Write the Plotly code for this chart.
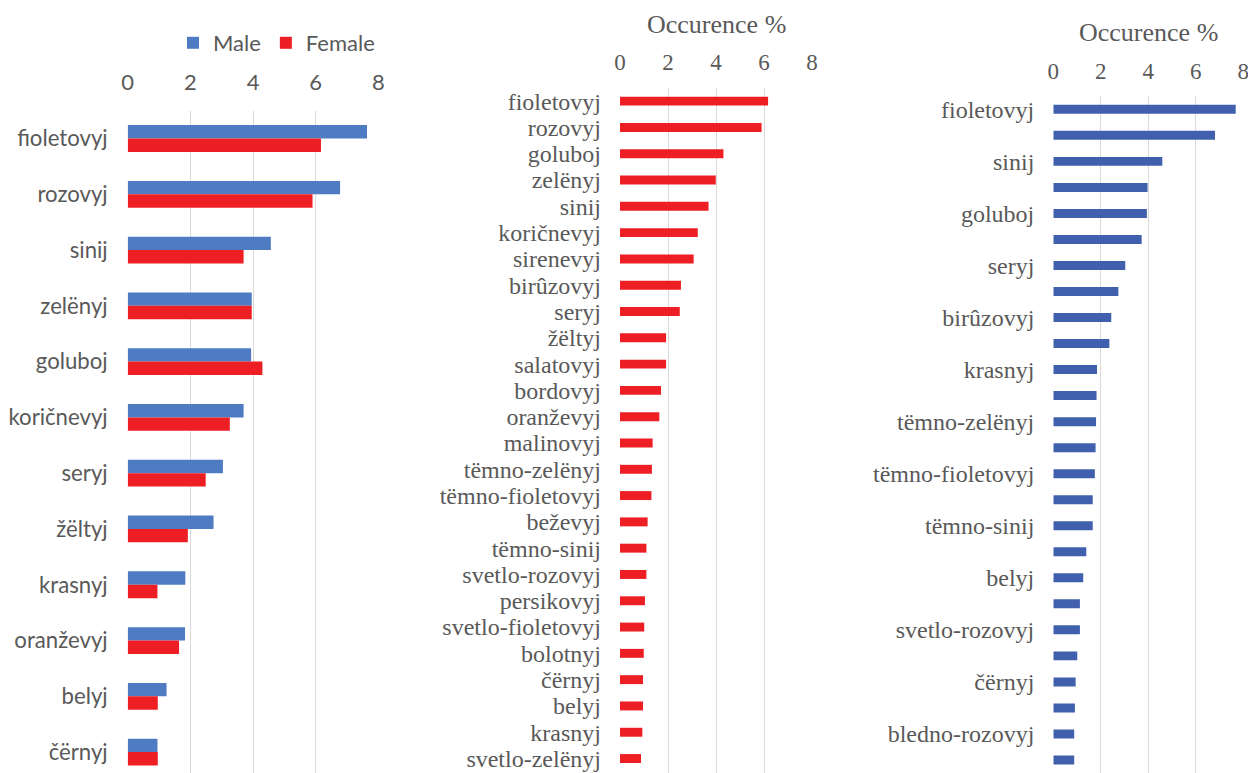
import plotly.graph_objects as go

# The page body adds an 8px margin, so the figure is drawn 8px in from the window corner.
OFF = 8
W, H = 1256 - OFF, 773 - OFF

# ---------- Left panel: Male vs Female ----------
left_cats = ["fioletovyj", "rozovyj", "sinij", "zelënyj", "goluboj", "koričnevyj",
             "seryj", "žëltyj", "krasnyj", "oranževyj", "belyj", "čërnyj"]
left_male = [7.64, 6.78, 4.57, 3.96, 3.94, 3.70, 3.04, 2.74, 1.84, 1.83, 1.24, 0.95]
left_female = [6.17, 5.90, 3.70, 3.96, 4.30, 3.26, 2.49, 1.92, 0.95, 1.64, 0.96, 0.96]

# ---------- Middle panel: Female ----------
fem_cats = ["fioletovyj", "rozovyj", "goluboj", "zelënyj", "sinij", "koričnevyj",
            "sirenevyj", "birûzovyj", "seryj", "žëltyj", "salatovyj", "bordovyj",
            "oranževyj", "malinovyj", "tëmno-zelënyj", "tëmno-fioletovyj", "beževyj",
            "tëmno-sinij", "svetlo-rozovyj", "persikovyj", "svetlo-fioletovyj",
            "bolotnyj", "čërnyj", "belyj", "krasnyj", "svetlo-zelënyj"]
fem_vals = [6.17, 5.90, 4.31, 3.99, 3.69, 3.24, 3.07, 2.54, 2.49, 1.92, 1.92, 1.71,
            1.64, 1.36, 1.33, 1.31, 1.15, 1.10, 1.10, 1.04, 1.01, 0.99, 0.96, 0.96,
            0.93, 0.875]

# ---------- Right panel: Male ----------
male_cats = ["fioletovyj", "rozovyj", "sinij", "zelënyj", "goluboj", "koričnevyj",
             "seryj", "žëltyj", "birûzovyj", "sirenevyj", "krasnyj", "oranževyj",
             "tëmno-zelënyj", "salatovyj", "tëmno-fioletovyj", "bordovyj",
             "tëmno-sinij", "malinovyj", "belyj", "beževyj", "svetlo-rozovyj",
             "persikovyj", "čërnyj", "bolotnyj", "bledno-rozovyj", "svetlo-zelënyj"]
male_vals = [7.68, 6.81, 4.59, 3.97, 3.94, 3.72, 3.03, 2.74, 2.44, 2.36, 1.84, 1.82,
             1.80, 1.78, 1.75, 1.66, 1.66, 1.39, 1.26, 1.12, 1.12, 1.01, 0.94, 0.91,
             0.88, 0.88]
male_shown = male_cats[::2]

x_ticks = [0, 2, 4, 6, 8]
axis_title = "Occurence %"

BLUE_L = "#4F7BC3"
BLUE_R = "#4060AD"
RED = "#ED1F24"
GRID = "#D9D9D9"
TXT = "#595959"
SANS = "Lato, 'Liberation Sans', sans-serif"
SERIF = "'Liberation Serif', 'DejaVu Serif', serif"

def px_x(p):
    return (p - OFF) / W

def px_y(p):
    return 1 - (p - OFF) / H

fig = go.Figure()

fig.add_trace(go.Bar(y=left_cats, x=left_male, orientation="h", name="Male",
                     marker=dict(color=BLUE_L, line=dict(width=0)),
                     width=0.24, offset=-0.24, xaxis="x", yaxis="y"))
fig.add_trace(go.Bar(y=left_cats, x=left_female, orientation="h", name="Female",
                     marker=dict(color=RED, line=dict(width=0)),
                     width=0.24, offset=0.0, xaxis="x", yaxis="y"))
fig.add_trace(go.Bar(y=fem_cats, x=fem_vals, orientation="h", name="Female ",
                     marker=dict(color=RED, line=dict(width=0)),
                     width=0.34, offset=-0.17, xaxis="x2", yaxis="y2",
                     showlegend=False))
fig.add_trace(go.Bar(y=male_cats, x=male_vals, orientation="h", name="Male ",
                     marker=dict(color=BLUE_R, line=dict(width=0)),
                     width=0.345, offset=-0.1725, xaxis="x3", yaxis="y3",
                     showlegend=False))

def xaxis(domain, anchor, family, size, standoff):
    return dict(domain=domain, anchor=anchor, side="top", range=[0, 8],
                tickvals=x_ticks, showgrid=True, gridcolor=GRID, gridwidth=1.3,
                zeroline=False, showline=False, ticks="", automargin=False,
                ticklabelstandoff=standoff,
                tickfont=dict(family=family, size=size, color=TXT), fixedrange=True)

def yaxis(domain, anchor, rng, family, size, cats, shown, standoff=18):
    return dict(domain=domain, anchor=anchor, type="category", range=rng,
                categoryorder="array", categoryarray=cats,
                tickmode="array", tickvals=shown, ticktext=shown,
                showgrid=False, zeroline=False, showline=False, ticks="",
                automargin=False, ticklabelstandoff=standoff,
                tickfont=dict(family=family, size=size, color=TXT), fixedrange=True)

fig.update_layout(
    width=W, height=H,
    margin=dict(l=0, r=0, t=0, b=0, autoexpand=False),
    paper_bgcolor="white", plot_bgcolor="white",
    barmode="overlay",
    xaxis=xaxis([px_x(127.7), px_x(378.3)], "y", SANS, 22, 15),
    yaxis=yaxis([0, px_y(110.6)], "x", [11.375, -0.5], SANS, 22.2,
                left_cats, left_cats, standoff=19),
    xaxis2=xaxis([px_x(620), px_x(812)], "y2", SERIF, 23, 12),
    yaxis2=yaxis([0, px_y(88)], "x2", [25.55, -0.5], SERIF, 24,
                 fem_cats, fem_cats),
    xaxis3=xaxis([px_x(1053.3), px_x(1243.3)], "y3", SERIF, 23, 12),
    yaxis3=yaxis([0, px_y(96.3)], "x3", [25.5, -0.5], SERIF, 24,
                 male_cats, male_shown),
    legend=dict(orientation="h", x=px_x(173), y=px_y(43), xanchor="left",
                yanchor="middle", font=dict(family=SANS, size=22, color=TXT),
                bgcolor="rgba(0,0,0,0)", itemwidth=30),
    annotations=[
        dict(text=axis_title, x=px_x((620 + 812) / 2), y=px_y(24), xref="paper",
             yref="paper", xanchor="center", yanchor="middle", showarrow=False,
             font=dict(family=SERIF, size=26, color=TXT)),
        dict(text=axis_title, x=px_x((1053.3 + 1243.3) / 2), y=px_y(32), xref="paper",
             yref="paper", xanchor="center", yanchor="middle", showarrow=False,
             font=dict(family=SERIF, size=26, color=TXT)),
    ],
)

fig.write_html("out.html")
